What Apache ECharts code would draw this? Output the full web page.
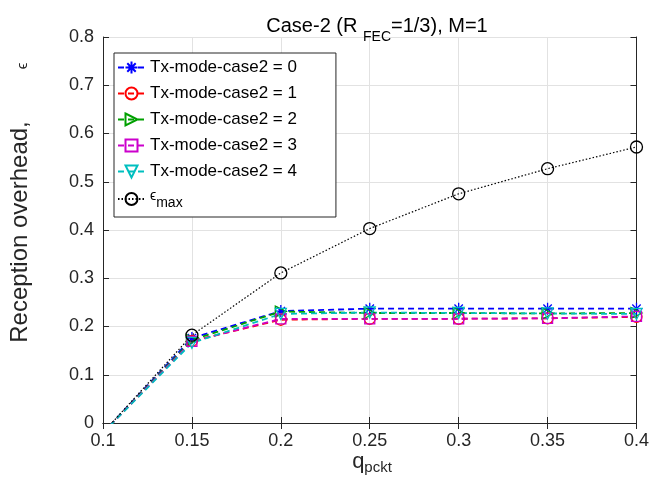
<!DOCTYPE html>
<html lang="en">
<head>
  <meta charset="UTF-8">
  <title>Case-2</title>
  <style>
    html,body{margin:0;padding:0;background:#fff;}
    #main{width:652px;height:492px;}
  </style>
</head>
<body>
  <div id="main"></div>
  <script src="https://cdn.jsdelivr.net/npm/echarts@6/dist/echarts.min.js"></script>
  <script>
    // q_pckt values
    const qPckt = [0.1, 0.15, 0.2, 0.25, 0.3, 0.35, 0.4];
    // reception overhead per tx mode (first point lies below 0 and gets clipped)
    const txMode0 = [-0.02, 0.176, 0.232, 0.237, 0.237, 0.237, 0.237];
    const txMode1 = [-0.02, 0.170, 0.214, 0.216, 0.216, 0.217, 0.220];
    const txMode2 = [-0.02, 0.172, 0.231, 0.228, 0.228, 0.227, 0.228];
    const txMode3 = [-0.02, 0.169, 0.216, 0.216, 0.216, 0.217, 0.221];
    const txMode4 = [-0.02, 0.166, 0.226, 0.229, 0.228, 0.227, 0.226];
    const epsMax  = [-0.02, 0.182, 0.311, 0.403, 0.475, 0.527, 0.572];
    const xTicks = { min: 0.1, max: 0.4, step: 0.05 };
    const yTicks = { min: 0, max: 0.8, step: 0.1 };

    const axisColor = '#262626';
    const font = '"Liberation Sans", Arial, Helvetica, sans-serif';

    const star = 'path://M5,0L5,10M0,5L10,5M1.5,1.5L8.5,8.5M1.5,8.5L8.5,1.5';
    const triRight = 'path://M0,0L10,5L0,10Z';
    const triDown = 'path://M0,0L10,0L5,10Z';

    function pts(ys){ return qPckt.map((x,i)=>[x, ys[i]]); }

    function txSeries(name, ys, color, symbol, size){
      return {
        name: name, type: 'line', data: pts(ys), clip: true,
        symbol: symbol, symbolSize: size, showAllSymbol: true,
        itemStyle: { color: 'none', borderColor: color, borderWidth: 1.3 },
        lineStyle: { color: color, width: 1.8, type: [6, 4] },
        emphasis: { disabled: true }
      };
    }

    const chart = echarts.init(document.querySelector('#main'));
    const option = {
      animation: false,
      textStyle: { fontFamily: font },
      title: {
        text: '{a|Case-2 (R }{s|FEC}{a|=1/3), M=1}',
        left: 372, top: 5, textAlign: 'center',
        textStyle: {
          fontWeight: 'normal',
          rich: {
            a: { fontSize: 20, fontWeight: 'normal', color: '#000', fontFamily: font, verticalAlign: 'bottom', lineHeight: 26 },
            s: { fontSize: 14, fontWeight: 'normal', color: '#000', fontFamily: font, verticalAlign: 'bottom', lineHeight: 26, padding: [0, 0, -8, 0] }
          }
        }
      },
      grid: { left: 103, right: 10, top: 37, bottom: 69 },
      legend: {
        orient: 'vertical', left: 114, top: 53,
        backgroundColor: '#fff', borderColor: axisColor, borderWidth: 1,
        padding: [6, 39, 7, 3], itemGap: 9, itemWidth: 27, itemHeight: 15,
        selectedMode: false,
        textStyle: {
          fontSize: 17, color: '#000', fontFamily: font,
          rich: {
            e: { fontSize: 14, color: '#000', fontFamily: font, padding: [0, 0, 6, 0] },
            s: { fontSize: 14, color: '#000', fontFamily: font, padding: [8, 0, 0, 0] }
          }
        },
        formatter: function(name){
          return name === 'emax' ? '{e|\u03f5}{s|max}' : name;
        }
      },
      xAxis: [{
        type: 'value', min: xTicks.min, max: xTicks.max, interval: xTicks.step,
        axisLine: { lineStyle: { color: axisColor } },
        axisTick: { inside: true, length: 6, lineStyle: { color: axisColor } },
        axisLabel: { fontSize: 18, color: axisColor, margin: 9, fontFamily: font },
        splitLine: { show: true, lineStyle: { color: '#e2e2e2' } }
      }, {
        type: 'value', position: 'top', min: xTicks.min, max: xTicks.max, interval: xTicks.step,
        axisLine: { show: true, lineStyle: { color: axisColor } },
        axisTick: { inside: true, length: 6, lineStyle: { color: axisColor } },
        axisLabel: { show: false }, splitLine: { show: false }
      }],
      yAxis: [{
        type: 'value', min: yTicks.min, max: yTicks.max, interval: yTicks.step,
        axisLine: { show: true, lineStyle: { color: axisColor } },
        axisTick: { show: true, inside: true, length: 6, lineStyle: { color: axisColor } },
        axisLabel: { fontSize: 18, color: axisColor, margin: 9, fontFamily: font },
        splitLine: { show: true, lineStyle: { color: '#e2e2e2' } }
      }, {
        type: 'value', position: 'right', min: yTicks.min, max: yTicks.max, interval: yTicks.step,
        axisLine: { show: true, lineStyle: { color: axisColor } },
        axisTick: { show: true, inside: true, length: 6, lineStyle: { color: axisColor } },
        axisLabel: { show: false }, splitLine: { show: false }
      }],
      graphic: [
        {
          type: 'text', x: 20, y: 232, rotation: Math.PI / 2,
          style: { text: 'Reception overhead,', fontSize: 24, fontFamily: font, fill: '#262626', align: 'center', verticalAlign: 'middle' }
        },
        {
          type: 'text', x: 23, y: 66, rotation: Math.PI / 2,
          style: { text: '\u03f5', fontSize: 15, fontFamily: font, fill: '#262626', align: 'center', verticalAlign: 'middle' }
        },
        {
          type: 'text', x: 372, y: 462,
          style: {
            text: '{q|q}{s|pckt}', align: 'center', verticalAlign: 'middle',
            rich: {
              q: { fontSize: 22, fontFamily: font, fill: '#262626', color: '#262626' },
              s: { fontSize: 15, fontFamily: font, fill: '#262626', color: '#262626', padding: [12, 0, 0, 0] }
            }
          }
        }
      ],
      series: [
        txSeries('Tx-mode-case2 = 0', txMode0, '#0000ff', star, 12),
        txSeries('Tx-mode-case2 = 1', txMode1, '#ff0000', 'circle', 11),
        txSeries('Tx-mode-case2 = 2', txMode2, '#00a000', triRight, 11),
        txSeries('Tx-mode-case2 = 3', txMode3, '#cc00cc', 'rect', 10),
        txSeries('Tx-mode-case2 = 4', txMode4, '#00bfbf', triDown, 11),
        {
          name: 'emax', type: 'line', data: pts(epsMax), clip: true,
          symbol: 'circle', symbolSize: 12, showAllSymbol: true,
          itemStyle: { color: 'none', borderColor: '#000', borderWidth: 1.3 },
          lineStyle: { color: '#000', width: 1.2, type: [1.5, 2] },
          emphasis: { disabled: true }
        }
      ]
    };
    chart.setOption(option);
  </script>
</body>
</html>
